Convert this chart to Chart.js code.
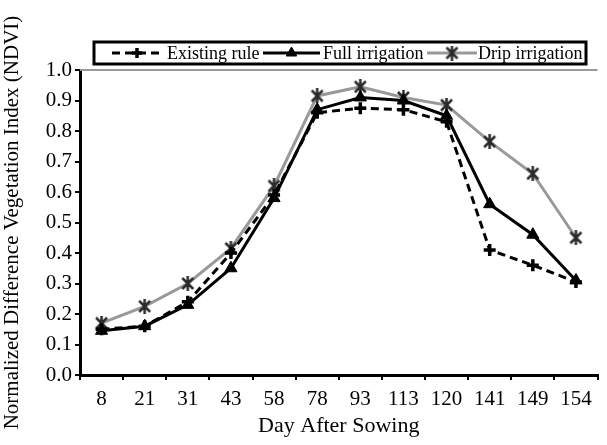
<!DOCTYPE html>
<html lang="en">
<head>
<meta charset="UTF-8">
<title>NDVI</title>
<script src="https://cdn.jsdelivr.net/npm/chart.js"></script>
<style>
  body { margin: 0; background: #fff; }
  #wrap { width: 607px; height: 445px; }
</style>
</head>
<body>
<div id="wrap"><canvas id="ndvi"></canvas></div>
<script>
const days = ['8', '21', '31', '43', '58', '78', '93', '113', '120', '141', '149', '154'];
const existingRule = [0.15, 0.16, 0.24, 0.40, 0.59, 0.86, 0.875, 0.87, 0.83, 0.41, 0.36, 0.305];
const fullIrrigation = [0.145, 0.16, 0.23, 0.35, 0.58, 0.87, 0.91, 0.90, 0.85, 0.56, 0.46, 0.31];
const dripIrrigation = [0.17, 0.225, 0.30, 0.415, 0.62, 0.915, 0.945, 0.91, 0.885, 0.765, 0.66, 0.45];
const yTicks = [0, 0.1, 0.2, 0.3, 0.4, 0.5, 0.6, 0.7, 0.8, 0.9, 1.0];

const serif = "'Liberation Serif', 'DejaVu Serif', serif";

// Excel-style asterisk marker: an X with a vertical bar
function asterisk(size, color) {
  const c = document.createElement('canvas');
  c.width = size; c.height = size;
  const g = c.getContext('2d');
  const m = 2, s = size - 2;
  g.strokeStyle = color;
  g.lineWidth = 2.5;
  g.lineCap = 'butt';
  g.beginPath();
  g.moveTo(m, m); g.lineTo(s, s);
  g.moveTo(s, m); g.lineTo(m, s);
  g.moveTo(size / 2, 0); g.lineTo(size / 2, size);
  g.stroke();
  return c;
}
const dripMark = asterisk(15, '#2a2a2a');

// legend in a black box, line sample + marker like the original
const boxLegend = {
  id: 'boxLegend',
  afterDraw(chart) {
    const ctx = chart.ctx;
    const area = chart.chartArea;
    ctx.save();
    // grey top border of plot area
    ctx.strokeStyle = '#999';
    ctx.lineWidth = 2;
    ctx.beginPath();
    ctx.moveTo(area.left, area.top);
    ctx.lineTo(area.right, area.top);
    ctx.stroke();

    ctx.strokeStyle = '#000';
    ctx.lineWidth = 3;
    ctx.strokeRect(94, 42, 492, 22);

    const items = [
      { ds: chart.data.datasets[0], x0: 112, x1: 162, tx: 167 },
      { ds: chart.data.datasets[1], x0: 263, x1: 320, tx: 323 },
      { ds: chart.data.datasets[2], x0: 427, x1: 477, tx: 478 }
    ];
    const y = 53;
    ctx.font = '18px ' + serif;
    ctx.textBaseline = 'middle';
    items.forEach(it => {
      ctx.strokeStyle = it.ds.borderColor;
      ctx.lineWidth = it.ds.borderWidth;
      ctx.setLineDash(it.ds.borderDash || []);
      ctx.beginPath();
      ctx.moveTo(it.x0, y);
      ctx.lineTo(it.x1, y);
      ctx.stroke();
      ctx.setLineDash([]);
      ctx.strokeStyle = it.ds.pointBorderColor;
      ctx.fillStyle = it.ds.pointBackgroundColor;
      ctx.lineWidth = it.ds.pointBorderWidth;
      Chart.helpers.drawPoint(ctx, {
        pointStyle: it.ds.pointStyle,
        radius: it.ds.pointRadius - 1,
        rotation: 0,
        borderWidth: it.ds.pointBorderWidth
      }, (it.x0 + it.x1) / 2, y);
      ctx.fillStyle = '#000';
      ctx.fillText(it.ds.label, it.tx, y + 1);
    });
    ctx.restore();
  }
};

new Chart(document.getElementById('ndvi'), {
  type: 'line',
  data: {
    labels: days,
    datasets: [
      {
        label: 'Existing rule',
        data: existingRule,
        borderColor: '#000',
        borderWidth: 3,
        borderDash: [8, 5],
        pointStyle: 'cross',
        pointRadius: 6,
        pointBorderWidth: 3.5,
        pointBorderColor: '#000',
        pointBackgroundColor: '#000',
        tension: 0
      },
      {
        label: 'Full irrigation',
        data: fullIrrigation,
        borderColor: '#000',
        borderWidth: 3,
        pointStyle: 'triangle',
        pointRadius: 7,
        pointBorderWidth: 1,
        pointBorderColor: '#000',
        pointBackgroundColor: '#000',
        tension: 0
      },
      {
        label: 'Drip irrigation',
        data: dripIrrigation,
        borderColor: '#999',
        borderWidth: 3,
        pointStyle: dripMark,
        pointRadius: 7,
        pointBorderWidth: 2.5,
        pointBorderColor: '#2a2a2a',
        pointBackgroundColor: '#2a2a2a',
        tension: 0
      }
    ]
  },
  options: {
    responsive: true,
    maintainAspectRatio: false,
    animation: false,
    layout: { padding: { top: 70, right: 4, left: 0, bottom: 0 } },
    plugins: {
      legend: { display: false },
      tooltip: { enabled: false }
    },
    scales: {
      x: {
        offset: true,
        afterFit: axis => { axis.height = 70; },
        grid: { offset: true, drawOnChartArea: false, color: '#000', lineWidth: 2, tickLength: 5 },
        border: { color: '#000', width: 3 },
        ticks: { color: '#000', font: { family: serif, size: 21 }, padding: 7, maxRotation: 0, autoSkip: false },
        title: { display: true, text: 'Day After Sowing', color: '#000', font: { family: serif, size: 22 }, padding: { top: 0, bottom: 6 } }
      },
      y: {
        min: 0,
        max: 1.0,
        afterFit: axis => { axis.width = 80; },
        afterBuildTicks: axis => { axis.ticks = yTicks.map(v => ({ value: v })); },
        grid: { drawOnChartArea: false, color: '#000', lineWidth: 2, tickLength: 5 },
        border: { color: '#000', width: 3 },
        ticks: { color: '#000', font: { family: serif, size: 21 }, padding: 3, callback: v => v.toFixed(1) },
        title: { display: true, text: 'Normalized Difference Vegetation Index (NDVI)', color: '#000', font: { family: serif, size: 21 }, padding: { top: 0, bottom: 0 } }
      }
    }
  },
  plugins: [boxLegend]
});
</script>
</body>
</html>
